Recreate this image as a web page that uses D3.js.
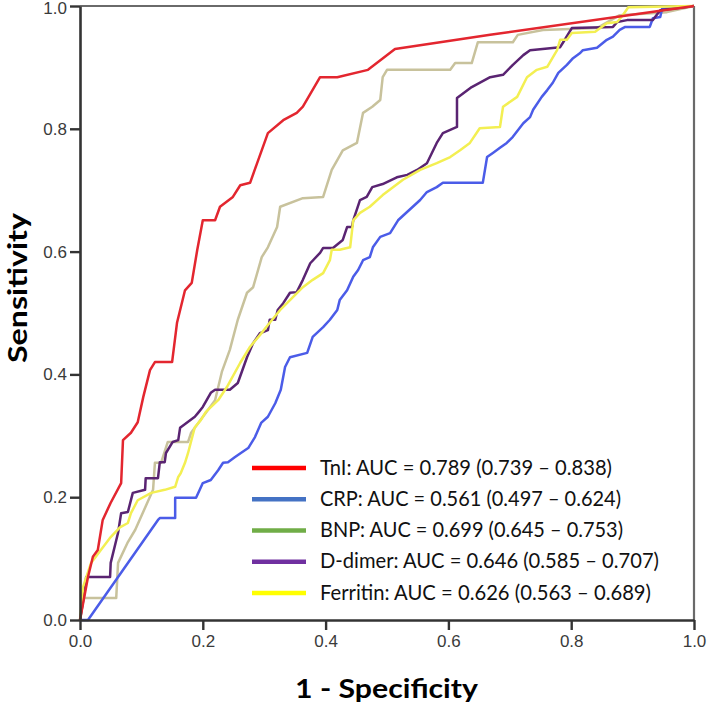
<!DOCTYPE html>
<html>
<head>
<meta charset="utf-8">
<script src="https://cdn.jsdelivr.net/npm/d3@7"></script>
<style>
  html, body { margin: 0; padding: 0; background: #fff; }
  svg { display: block; }
</style>
</head>
<body>
<svg id="chart" width="709" height="708"></svg>
<script>
// ---- Data (1 - specificity, sensitivity) ----
const tniPoints = [
  [0,0],[0.013,0.070],[0.021,0.103],[0.029,0.114],[0.037,0.163],[0.050,0.191],
  [0.067,0.223],[0.070,0.293],[0.083,0.305],[0.094,0.322],[0.103,0.363],[0.114,0.407],
  [0.122,0.420],[0.150,0.420],[0.158,0.484],[0.171,0.537],[0.182,0.549],[0.191,0.603],
  [0.200,0.651],[0.220,0.651],[0.228,0.673],[0.249,0.689],[0.261,0.708],[0.277,0.712],
  [0.306,0.793],[0.331,0.814],[0.353,0.826],[0.363,0.836],[0.391,0.884],[0.419,0.884],
  [0.469,0.896],[0.513,0.930],[0.668,0.953],[1,1]
];
const crpPoints = [
  [0,0],[0.013,0],[0.127,0.163],[0.130,0.166],[0.155,0.166],[0.155,0.199],[0.189,0.199],
  [0.195,0.212],[0.200,0.223],[0.213,0.228],[0.225,0.244],[0.233,0.256],[0.241,0.257],
  [0.252,0.265],[0.262,0.272],[0.274,0.280],[0.285,0.298],[0.295,0.321],[0.306,0.331],
  [0.318,0.353],[0.327,0.375],[0.334,0.412],[0.342,0.428],[0.370,0.435],[0.379,0.461],
  [0.396,0.477],[0.407,0.489],[0.419,0.505],[0.423,0.521],[0.435,0.537],[0.445,0.559],
  [0.453,0.570],[0.461,0.586],[0.472,0.591],[0.477,0.607],[0.489,0.624],[0.505,0.630],
  [0.518,0.651],[0.554,0.684],[0.565,0.697],[0.581,0.705],[0.591,0.712],[0.656,0.712],
  [0.663,0.754],[0.673,0.761],[0.684,0.769],[0.695,0.777],[0.705,0.787],[0.722,0.809],
  [0.733,0.819],[0.738,0.831],[0.752,0.852],[0.761,0.863],[0.770,0.875],[0.779,0.891],
  [0.793,0.904],[0.803,0.915],[0.814,0.923],[0.819,0.928],[0.842,0.932],[0.858,0.945],
  [0.868,0.950],[0.879,0.961],[0.888,0.966],[0.928,0.966],[0.933,0.980],[0.945,0.982],
  [0.948,0.995],[1,1]
];
const bnpPoints = [
  [0,0],[0.005,0.036],[0.059,0.036],[0.062,0.093],[0.078,0.127],[0.090,0.147],
  [0.119,0.212],[0.122,0.256],[0.132,0.256],[0.143,0.290],[0.176,0.290],[0.181,0.305],
  [0.220,0.358],[0.231,0.404],[0.244,0.440],[0.257,0.489],[0.272,0.533],[0.282,0.542],
  [0.296,0.591],[0.306,0.607],[0.321,0.640],[0.326,0.673],[0.363,0.687],[0.396,0.689],
  [0.410,0.733],[0.428,0.765],[0.451,0.777],[0.461,0.826],[0.476,0.836],[0.489,0.847],
  [0.493,0.884],[0.500,0.896],[0.603,0.896],[0.611,0.907],[0.638,0.907],[0.648,0.941],
  [0.705,0.941],[0.713,0.953],[0.754,0.961],[0.842,0.964],[0.879,0.985],[0.956,0.990],[1,1]
];
const ddimerPoints = [
  [0,0],[0.008,0.049],[0.010,0.070],[0.049,0.070],[0.050,0.093],[0.062,0.142],
  [0.067,0.174],[0.078,0.176],[0.086,0.207],[0.106,0.212],[0.107,0.231],[0.127,0.231],
  [0.130,0.257],[0.138,0.257],[0.140,0.272],[0.151,0.290],[0.160,0.293],[0.163,0.313],
  [0.187,0.331],[0.192,0.337],[0.200,0.347],[0.213,0.370],[0.220,0.375],[0.244,0.375],
  [0.257,0.386],[0.272,0.428],[0.282,0.451],[0.293,0.467],[0.306,0.472],[0.309,0.489],
  [0.318,0.489],[0.322,0.505],[0.331,0.516],[0.342,0.533],[0.353,0.534],[0.363,0.554],
  [0.375,0.581],[0.391,0.598],[0.396,0.606],[0.412,0.606],[0.428,0.619],[0.435,0.640],
  [0.443,0.640],[0.445,0.651],[0.456,0.684],[0.467,0.689],[0.476,0.705],[0.493,0.710],
  [0.516,0.721],[0.533,0.725],[0.549,0.733],[0.565,0.744],[0.581,0.777],[0.591,0.793],
  [0.614,0.803],[0.614,0.850],[0.638,0.868],[0.668,0.884],[0.689,0.888],[0.705,0.904],
  [0.722,0.920],[0.733,0.928],[0.782,0.933],[0.787,0.941],[0.801,0.964],[0.868,0.966],
  [0.875,0.974],[0.891,0.977],[0.933,0.977],[0.945,0.993],[1,1]
];
const ferritinPoints = [
  [0,0],[0.005,0.054],[0.018,0.093],[0.034,0.114],[0.050,0.135],[0.065,0.151],
  [0.078,0.158],[0.083,0.174],[0.094,0.195],[0.116,0.207],[0.138,0.212],[0.155,0.217],
  [0.160,0.233],[0.164,0.239],[0.171,0.256],[0.176,0.272],[0.187,0.314],[0.197,0.326],
  [0.205,0.339],[0.225,0.358],[0.239,0.379],[0.261,0.419],[0.277,0.445],[0.293,0.464],
  [0.309,0.484],[0.326,0.505],[0.342,0.521],[0.363,0.542],[0.379,0.554],[0.396,0.565],
  [0.407,0.586],[0.410,0.603],[0.423,0.603],[0.440,0.607],[0.445,0.651],[0.456,0.663],
  [0.472,0.673],[0.493,0.692],[0.526,0.717],[0.554,0.733],[0.581,0.744],[0.603,0.754],
  [0.619,0.765],[0.635,0.777],[0.651,0.801],[0.684,0.803],[0.689,0.836],[0.712,0.852],
  [0.728,0.884],[0.744,0.896],[0.761,0.901],[0.777,0.928],[0.782,0.945],[0.793,0.945],
  [0.801,0.956],[0.839,0.958],[0.858,0.972],[0.875,0.974],[0.884,0.985],[0.893,0.998],[1,1]
];

const seriesNames = ["TnI", "CRP", "BNP", "D-dimer", "Ferritin"];
const legendLabels = [
  "TnI: AUC = 0.789 (0.739 \u2013 0.838)",
  "CRP: AUC = 0.561 (0.497 \u2013 0.624)",
  "BNP: AUC = 0.699 (0.645 \u2013 0.753)",
  "D-dimer: AUC = 0.646 (0.585 \u2013 0.707)",
  "Ferritin: AUC = 0.626 (0.563 \u2013 0.689)"
];
const tickValues = [0, 0.2, 0.4, 0.6, 0.8, 1.0];
const xTitle = "1 - Specificity";
const yTitle = "Sensitivity";

// ---- Styles ----
const lineColors = { "TnI": "#e3262f", "CRP": "#4b5ce8", "BNP": "#c8c29c", "D-dimer": "#5a2472", "Ferritin": "#f3ef52" };
const legendColors = { "TnI": "#ff0000", "CRP": "#4472c4", "BNP": "#70ad47", "D-dimer": "#7030a0", "Ferritin": "#ffff00" };
const legendWidths = [292, 301, 303, 339, 331];

const seriesData = {
  "TnI": tniPoints, "CRP": crpPoints, "BNP": bnpPoints,
  "D-dimer": ddimerPoints, "Ferritin": ferritinPoints
};

const svg = d3.select("#chart");
const plotLeft = 80, plotRight = 694, plotTop = 6, plotBottom = 620;

const x = d3.scaleLinear().domain([0, 1]).range([plotLeft, plotRight]);
const y = d3.scaleLinear().domain([0, 1]).range([plotBottom, plotTop]);

// frame (top & right)
svg.append("line").attr("x1", plotLeft).attr("x2", plotRight).attr("y1", plotTop).attr("y2", plotTop)
  .attr("stroke", "#6a6a6a").attr("stroke-width", 2.2);
svg.append("line").attr("x1", plotRight).attr("x2", plotRight).attr("y1", plotTop).attr("y2", plotBottom)
  .attr("stroke", "#6a6a6a").attr("stroke-width", 2.2);

// curves
const line = d3.line().x(d => x(d[0])).y(d => y(d[1])).curve(d3.curveLinear);
const drawOrder = ["BNP", "CRP", "D-dimer", "Ferritin", "TnI"];
svg.append("g").selectAll("path").data(drawOrder).join("path")
  .attr("d", k => line(seriesData[k]))
  .attr("fill", "none")
  .attr("stroke", k => lineColors[k])
  .attr("stroke-width", 2.5)
  .attr("stroke-linejoin", "round");

// axes
const xAxis = svg.append("g").attr("transform", `translate(0,${plotBottom})`)
  .call(d3.axisBottom(x).tickValues(tickValues).tickFormat(d3.format(".1f")).tickSize(10).tickPadding(5).tickSizeOuter(0));
const yAxis = svg.append("g").attr("transform", `translate(${plotLeft},0)`)
  .call(d3.axisLeft(y).tickValues(tickValues).tickFormat(d3.format(".1f")).tickSize(10).tickPadding(3).tickSizeOuter(0));
[xAxis, yAxis].forEach(g => {
  g.select(".domain").attr("stroke", "#333").attr("stroke-width", 2.6);
  g.selectAll(".tick line").attr("stroke", "#333").attr("stroke-width", 2.4);
  g.selectAll(".tick text").attr("fill", "#3a3a3a")
    .style("font-family", "'Liberation Sans', Arial, sans-serif").style("font-size", "17px");
});
yAxis.selectAll(".tick text").attr("dy", d => d === 1 ? "0.42em" : "0.32em");

// axis titles
svg.append("text").attr("x", 386.5).attr("y", 698).attr("text-anchor", "middle")
  .style("font-family", "Lato, 'Open Sans', sans-serif").style("font-weight", "bold").style("font-size", "26px")
  .attr("fill", "#000").attr("textLength", 183).attr("lengthAdjust", "spacingAndGlyphs").text(xTitle);
svg.append("text").attr("transform", "translate(27,288) rotate(-90)").attr("text-anchor", "middle")
  .style("font-family", "Lato, 'Open Sans', sans-serif").style("font-weight", "bold").style("font-size", "27px")
  .attr("fill", "#000").attr("textLength", 150).attr("lengthAdjust", "spacingAndGlyphs").text(yTitle);

// legend
const legendY = d3.scalePoint().domain(seriesNames).range([468, 593]);
const lg = svg.append("g");
seriesNames.forEach((k, i) => {
  lg.append("line").attr("x1", 252).attr("x2", 306)
    .attr("y1", legendY(k)).attr("y2", legendY(k))
    .attr("stroke", legendColors[k]).attr("stroke-width", 4.5);
  lg.append("text").attr("x", 320).attr("y", legendY(k) + 6.5)
    .style("font-family", "Lato, 'Open Sans', sans-serif").style("font-size", "22px")
    .attr("fill", "#111").attr("textLength", legendWidths[i]).attr("lengthAdjust", "spacingAndGlyphs")
    .text(legendLabels[i]);
});
</script>
</body>
</html>
